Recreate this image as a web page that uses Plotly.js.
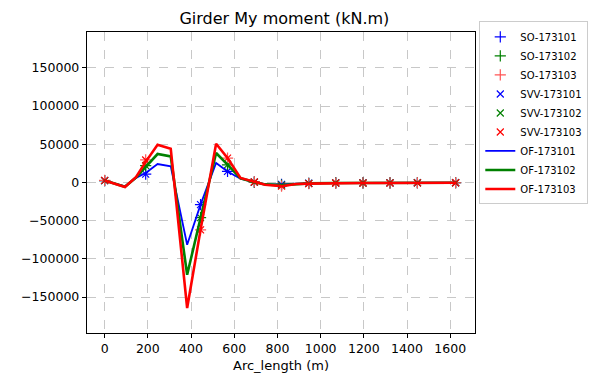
<!DOCTYPE html>
<html>
<head>
<meta charset="utf-8">
<script src="https://cdn.plot.ly/plotly-3.0.1.min.js"></script>
<style>html,body{margin:0;padding:0;background:#fff;}#chart{width:600px;height:378px;}</style>
</head>
<body>
<div id="chart"></div>
<script>
// Marker stations (m)
const markerX = [0, 190, 444, 569, 693, 819, 945, 1070, 1196, 1321, 1448, 1625];
// SO values
const so173101 = [2500, 11000, -29000, 14500, 500, -2500, -1000, -500, -500, -500, -300, -300];
const so173102 = [2500, 22000, -46000, 23000, 500, -3500, -1200, -600, -600, -500, -300, -300];
const so173103 = [2700, 29500, -62000, 32000, 700, -4800, -1500, -700, -600, -600, -400, -300];
// SVV values
const svv173101 = [2500, 11000, -29000, 14500, 500, -2500, -1000, -500, -500, -500, -300, -300];
const svv173102 = [2500, 22000, -46000, 23000, 500, -3500, -1200, -600, -600, -500, -300, -300];
const svv173103 = [2700, 29500, -62000, 32000, 700, -4800, -1500, -700, -600, -600, -400, -300];
// OF line stations (m)
const lineX = [0, 94, 145, 190, 245, 306, 382, 444, 516, 569, 629, 693, 743, 819, 887, 945, 1070, 1196, 1321, 1448, 1630];
const of173101 = [2500, -5000, 6000, 12500, 24200, 21100, -81500, -29000, 25500, 14500, 5000, 500, -2000, -2500, -1500, -1000, -500, -500, -500, -300, -300];
const of173102 = [2500, -5500, 6500, 20000, 37300, 34200, -120800, -46500, 38600, 23300, 5500, 500, -2500, -3500, -2000, -1200, -600, -600, -500, -300, -300];
const of173103 = [2700, -6000, 7000, 27000, 49500, 44300, -164400, -62000, 50800, 32100, 5900, 700, -3000, -4800, -2000, -1500, -700, -600, -600, -400, -300];

const FONT = 'DejaVu Sans, sans-serif';
function mk(name, y, sym, color, size) {
  return {x: markerX, y: y, name: name, type: 'scatter', mode: 'markers',
    marker: {symbol: sym, size: size, color: color, line: {color: color, width: 1.2}}};
}
function ln(name, y, color, w) {
  return {x: lineX, y: y, name: name, type: 'scatter', mode: 'lines',
    line: {color: color, width: w}};
}
const data = [
  mk('SO-173101', so173101, 'cross-thin', '#0000ff', 8),
  mk('SO-173102', so173102, 'cross-thin', '#008000', 8),
  mk('SO-173103', so173103, 'cross-thin', '#ff5555', 8),
  mk('SVV-173101', svv173101, 'x-thin', '#0000ff', 7),
  mk('SVV-173102', svv173102, 'x-thin', '#008000', 7),
  mk('SVV-173103', svv173103, 'x-thin', '#ff0000', 7),
  ln('OF-173101', of173101, '#0000ff', 1.8),
  ln('OF-173102', of173102, '#008000', 2.6),
  ln('OF-173103', of173103, '#ff0000', 2.6)
];
const axisCommon = {
  showline: true, mirror: true, linecolor: '#000', linewidth: 1.2,
  ticks: 'outside', ticklen: 4, tickcolor: '#000', tickwidth: 1,
  showgrid: true, gridcolor: '#c8c8c8', griddash: 'dash', gridwidth: 1,
  zeroline: false, tickfont: {family: FONT, size: 12.5, color: '#000'},
  automargin: false
};
const layout = {
  width: 600, height: 378,
  margin: {l: 87, r: 118, t: 32, b: 45},
  paper_bgcolor: '#fff', plot_bgcolor: '#fff',
  title: {text: 'Girder My moment (kN.m)', font: {family: FONT, size: 16, color: '#000'},
    x: 0.474, xanchor: 'center', y: 0.952, yanchor: 'middle'},
  xaxis: Object.assign({}, axisCommon, {
    range: [-81.7, 1714.7], tickmode: 'linear', tick0: 0, dtick: 200,
    title: {text: 'Arc_length (m)', font: {family: FONT, size: 13, color: '#000'}, standoff: 5}
  }),
  yaxis: Object.assign({}, axisCommon, {
    range: [-197000, 197000], tickmode: 'linear', tick0: 0, dtick: 50000, tickformat: 'd'
  }),
  showlegend: true,
  legend: {x: 1.292, xanchor: 'right', y: 1.035, yanchor: 'top',
    bordercolor: '#cccccc', borderwidth: 1, bgcolor: '#fff',
    font: {family: FONT, size: 10, color: '#000'}, itemwidth: 30, tracegroupgap: 0}
};
Plotly.newPlot('chart', data, layout, {displayModeBar: false, staticPlot: true});
</script>
</body>
</html>
